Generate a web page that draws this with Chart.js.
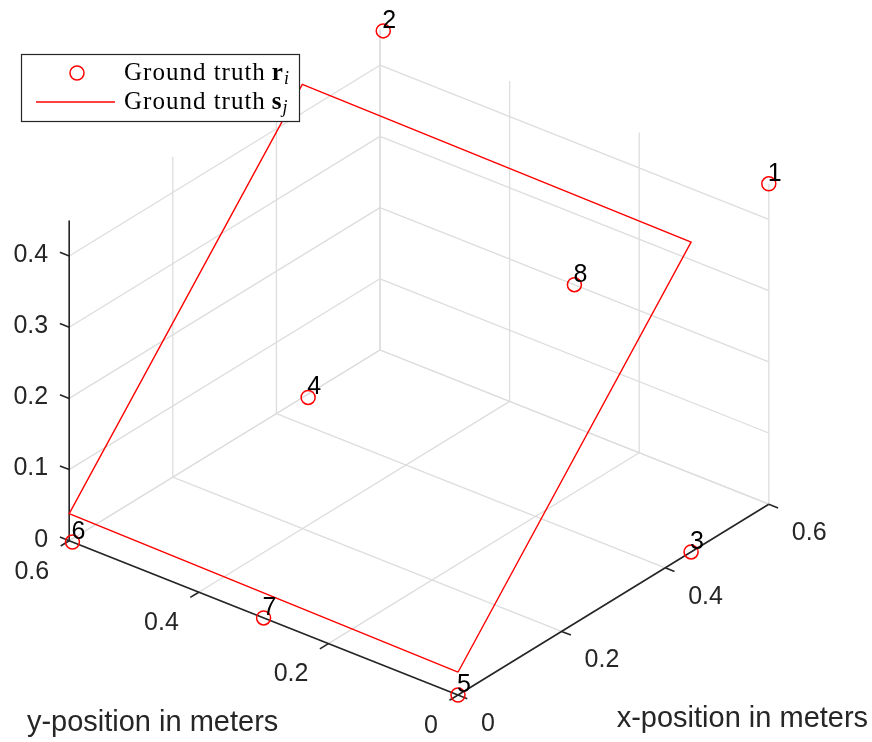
<!DOCTYPE html>
<html>
<head>
<meta charset="utf-8">
<script src="https://cdn.jsdelivr.net/npm/chart.js@4.4.1/dist/chart.umd.min.js"></script>
<style>
html,body{margin:0;padding:0;background:#ffffff;}
#wrap{width:872px;height:742px;position:relative;}
</style>
</head>
<body>
<div id="wrap"><canvas id="c" width="872" height="742"></canvas></div>
<script>
// ---------- data ----------
const xLimits = [0, 0.6];
const yLimits = [0, 0.6];
const zLimits = [0, 0.45];
const xTickValues = [0, 0.2, 0.4, 0.6];
const xTickLabels = ['0', '0.2', '0.4', '0.6'];
const yTickValues = [0, 0.2, 0.4, 0.6];
const yTickLabels = ['0', '0.2', '0.4', '0.6'];
const zTickValues = [0, 0.1, 0.2, 0.3, 0.4];
const zTickLabels = ['0', '0.1', '0.2', '0.3', '0.4'];

const receiverIds = ['1', '2', '3', '4', '5', '6', '7', '8'];
const receiverX = [0.6, 0.6, 0.45, 0.455, 0, 0, 0, 0.6];
const receiverY = [0, 0.595, 0, 0.595, 0, 0.595, 0.3, 0.3];
const receiverZ = [0.45, 0.45, 0, 0, 0, 0, 0, 0.2];

const surfaceX = [0, 0, 0.45, 0.45, 0];
const surfaceY = [0, 0.6, 0.6, 0, 0];
const surfaceZ = [0.032, 0.038, 0.44, 0.435, 0.032];

const xTitle = 'x-position in meters';
const yTitle = 'y-position in meters';

// ---------- view (orthographic projection into the plot plane) ----------
const view = { origin: [458, 695], ex: [518, -318], ey: [-648, -257], ez: [0, -712] };
function project(x, y, z) {
  return {
    x: view.origin[0] + x * view.ex[0] + y * view.ey[0] + z * view.ez[0],
    y: view.origin[1] + x * view.ex[1] + y * view.ey[1] + z * view.ez[1]
  };
}
function unit(v) { const l = Math.hypot(v[0], v[1]); return [v[0] / l, v[1] / l]; }

const receiverData = receiverX.map((x, i) => project(x, receiverY[i], receiverZ[i]));
const surfaceData = surfaceX.map((x, i) => project(x, surfaceY[i], surfaceZ[i]));

const AXIS = '#262626';
const GRID = '#dddddd';
const TICK_FONT = '25px "Liberation Sans", Arial, sans-serif';
const TITLE_FONT = '29px "Liberation Sans", Arial, sans-serif';

function px(chart, x, y, z) {
  const p = project(x, y, z);
  return [chart.scales.x.getPixelForValue(p.x), chart.scales.y.getPixelForValue(p.y)];
}
function seg(ctx, a, b) { ctx.beginPath(); ctx.moveTo(a[0], a[1]); ctx.lineTo(b[0], b[1]); ctx.stroke(); }

const axes3d = {
  id: 'axes3d',
  beforeDatasetsDraw(chart) {
    const ctx = chart.ctx;
    const [x0, x1] = xLimits, [y0, y1] = yLimits, [z0, z1] = zLimits;
    ctx.save();
    ctx.lineWidth = 1.3;
    ctx.strokeStyle = GRID;
    // floor grid (z = z0)
    xTickValues.forEach(v => seg(ctx, px(chart, v, y0, z0), px(chart, v, y1, z0)));
    yTickValues.forEach(v => seg(ctx, px(chart, x0, v, z0), px(chart, x1, v, z0)));
    // back wall x = x1
    yTickValues.forEach(v => seg(ctx, px(chart, x1, v, z0), px(chart, x1, v, z1)));
    zTickValues.forEach(v => seg(ctx, px(chart, x1, y0, v), px(chart, x1, y1, v)));
    // back wall y = y1
    xTickValues.forEach(v => seg(ctx, px(chart, v, y1, z0), px(chart, v, y1, z1)));
    zTickValues.forEach(v => seg(ctx, px(chart, x0, y1, v), px(chart, x1, y1, v)));

    // axes
    ctx.strokeStyle = AXIS;
    ctx.lineWidth = 1.6;
    seg(ctx, px(chart, x0, y0, z0), px(chart, x1, y0, z0));
    seg(ctx, px(chart, x0, y0, z0), px(chart, x0, y1, z0));
    seg(ctx, px(chart, x0, y1, z0), px(chart, x0, y1, z1));

    // ticks
    const tl = 10;
    const dx = unit([-view.ey[0], -view.ey[1]]);
    const dy = unit([-view.ex[0], -view.ex[1]]);
    const dz = unit([view.ey[0], view.ey[1]]);
    ctx.fillStyle = AXIS;
    ctx.font = TICK_FONT;
    ctx.textBaseline = 'middle';
    xTickValues.forEach((v, i) => {
      const p = px(chart, v, y0, z0);
      seg(ctx, p, [p[0] + dx[0] * tl, p[1] + dx[1] * tl]);
      ctx.textAlign = 'left';
      ctx.fillText(xTickLabels[i], p[0] + 23, p[1] + 29);
    });
    yTickValues.forEach((v, i) => {
      const p = px(chart, x0, v, z0);
      seg(ctx, p, [p[0] + dy[0] * tl, p[1] + dy[1] * tl]);
      ctx.textAlign = 'right';
      ctx.fillText(yTickLabels[i], p[0] - 20, p[1] + 31);
    });
    zTickValues.forEach((v, i) => {
      const p = px(chart, x0, y1, v);
      seg(ctx, p, [p[0] + dz[0] * tl, p[1] + dz[1] * tl]);
      ctx.textAlign = 'right';
      ctx.fillText(zTickLabels[i], p[0] - 21, p[1] - 1);
    });

    // axis titles
    ctx.font = TITLE_FONT;
    ctx.textBaseline = 'alphabetic';
    ctx.textAlign = 'center';
    const ym = px(chart, x0, (y0 + y1) / 2, z0);
    ctx.fillText(yTitle, ym[0] - 111, ym[1] + 113);
    const xm = px(chart, (x0 + x1) / 2, y0, z0);
    ctx.fillText(xTitle, xm[0] + 129, xm[1] + 127);
    ctx.restore();
  },
  afterDatasetsDraw(chart) {
    const ctx = chart.ctx;
    ctx.save();
    // point labels
    ctx.fillStyle = '#000000';
    ctx.font = '25px "Liberation Sans", Arial, sans-serif';
    ctx.textAlign = 'left';
    ctx.textBaseline = 'alphabetic';
    receiverIds.forEach((t, i) => {
      const p = px(chart, receiverX[i], receiverY[i], receiverZ[i]);
      ctx.fillText(t, p[0] - 1, p[1] - 3);
    });

    // legend
    const L = 21, T = 54, W = 278, H = 67;
    ctx.fillStyle = '#ffffff';
    ctx.fillRect(L, T, W, H);
    ctx.strokeStyle = AXIS;
    ctx.lineWidth = 1.2;
    ctx.strokeRect(L + 0.5, T + 0.5, W, H);
    ctx.strokeStyle = '#ff0000';
    ctx.lineWidth = 1.5;
    ctx.beginPath(); ctx.arc(77, 73, 7, 0, Math.PI * 2); ctx.stroke();
    ctx.lineWidth = 1.4;
    seg(ctx, [36, 102], [115, 102]);

    const serif = '"Liberation Serif", "Times New Roman", serif';
    function rich(base, sym, sub, bx, by) {
      ctx.fillStyle = '#000000';
      ctx.letterSpacing = '1px';
      ctx.font = '25px ' + serif;
      ctx.fillText(base, bx, by);
      let w = ctx.measureText(base).width + 6;
      ctx.letterSpacing = '0px';
      ctx.font = 'bold 25px ' + serif;
      ctx.fillText(sym, bx + w, by);
      w += ctx.measureText(sym).width + 1;
      ctx.font = 'italic 18px ' + serif;
      ctx.fillText(sub, bx + w, by + 4);
    }
    rich('Ground truth', 'r', 'i', 124, 80);
    rich('Ground truth', 's', 'j', 124, 109);
    ctx.restore();
  }
};

new Chart(document.getElementById('c'), {
  type: 'scatter',
  data: {
    datasets: [
      {
        label: 'Ground truth s_j',
        data: surfaceData,
        showLine: true,
        borderColor: '#ff0000',
        borderWidth: 1.4,
        pointRadius: 0,
        fill: false,
        tension: 0,
        clip: false
      },
      {
        label: 'Ground truth r_i',
        data: receiverData,
        pointStyle: 'circle',
        pointRadius: 7,
        borderWidth: 1.5,
        borderColor: '#ff0000',
        backgroundColor: 'rgba(0,0,0,0)',
        clip: false
      }
    ]
  },
  options: {
    responsive: false,
    animation: false,
    events: [],
    layout: { padding: 0, autoPadding: false },
    scales: {
      x: { type: 'linear', min: 0, max: 872, display: false },
      y: { type: 'linear', min: 0, max: 742, reverse: true, display: false }
    },
    plugins: { legend: { display: false }, tooltip: { enabled: false } }
  },
  plugins: [axes3d]
});
</script>
</body>
</html>
